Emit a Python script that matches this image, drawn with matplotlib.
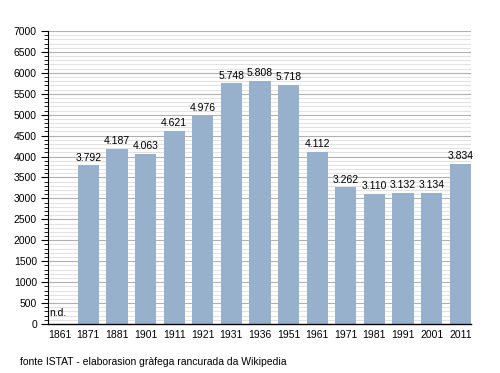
import matplotlib
matplotlib.use("Agg")
import matplotlib.pyplot as plt
from matplotlib.ticker import MultipleLocator

plt.rcParams['font.family'] = ['Liberation Sans', 'DejaVu Sans']

years = ["1861", "1871", "1881", "1901", "1911", "1921", "1931", "1936",
         "1951", "1961", "1971", "1981", "1991", "2001", "2011"]
population = [None, 3792, 4187, 4063, 4621, 4976, 5748, 5808,
              5718, 4112, 3262, 3110, 3132, 3134, 3834]
labels = ["n.d.", "3.792", "4.187", "4.063", "4.621", "4.976", "5.748", "5.808",
          "5.718", "4.112", "3.262", "3.110", "3.132", "3.134", "3.834"]

fig = plt.figure(figsize=(5.0, 3.73), dpi=100)
ax = fig.add_axes([48/500, 1 - 324/373, (471-48)/500, (324-31)/373])

ax.set_ylim(0, 7000)
ax.set_xlim(-0.41, len(years) - 1 + 0.375)
ax.yaxis.set_major_locator(MultipleLocator(500))
ax.yaxis.set_minor_locator(MultipleLocator(100))
ax.grid(axis='y', which='major', color='#b0b0b0', linewidth=0.8)
ax.grid(axis='y', which='minor', color='#e2e2e2', linewidth=0.8)
ax.set_axisbelow(True)

xs = list(range(len(years)))
vals = [v if v is not None else 0 for v in population]
ax.bar(xs, vals, width=0.74, color='#97b1cc', zorder=2)

for x, v, lab in zip(xs, population, labels):
    if v is None:
        ax.text(x - 0.36, 150, lab, ha='left', va='bottom', fontsize=7.5)
    else:
        ax.text(x, v + 60, lab, ha='center', va='bottom', fontsize=7.5)

ax.set_xticks(xs)
ax.set_xticklabels(years, fontsize=7.5)
ax.tick_params(axis='x', length=0, pad=4)
ax.tick_params(axis='y', which='major', length=5, width=0.8, labelsize=7.5, pad=3)
ax.tick_params(axis='y', which='minor', length=3, width=0.6)
for s in ['top', 'right']:
    ax.spines[s].set_visible(False)
ax.spines['left'].set_linewidth(0.8)
ax.spines['bottom'].set_linewidth(1.0)

fig.text(20/500, 1 - 362/373, "fonte ISTAT - elaborasion gràfega rancurada da Wikipedia",
         fontsize=7.5, ha='left', va='center')

fig.savefig("out.png", dpi=100)
